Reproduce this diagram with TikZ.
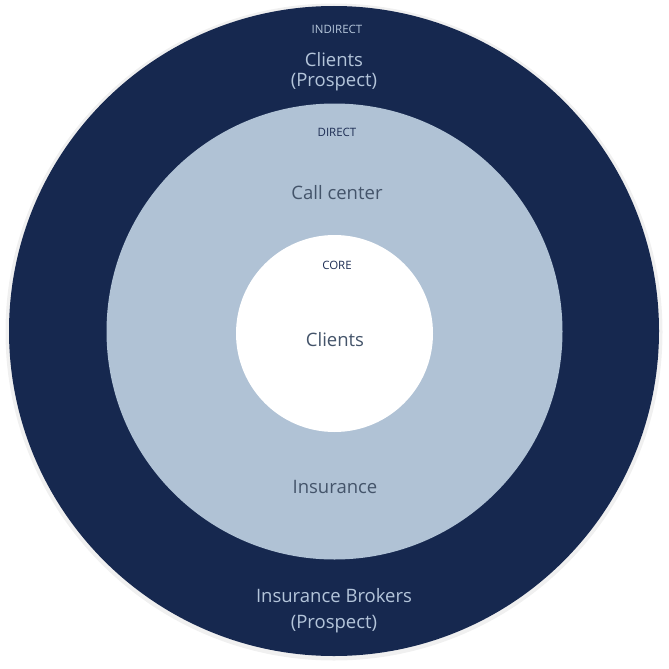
\documentclass[tikz,border=0pt]{standalone}
\usepackage{fontspec}
\setmainfont{Open Sans}
\definecolor{navy}{HTML}{16284F}
\definecolor{steel}{HTML}{B0C2D5}
\definecolor{paletext}{HTML}{B4C5DA}
\definecolor{slatetext}{HTML}{44546A}
\definecolor{tagnavy}{HTML}{1F2F55}
\begin{document}
\begin{tikzpicture}[x=1pt,y=-1pt,
  ring/.style={circle,inner sep=0pt,minimum size=#1},
  tag/.style={font=\fontsize{11.5}{13}\selectfont},
  big/.style={font=\fontsize{18.5}{20}\selectfont,align=center},
]
\useasboundingbox (0,0) rectangle (669,669);
% soft edge around the outer ring
\fill[black!12] (334,331.5) circle[radius=327];
\fill[black!6] (334,332) circle[radius=328.5];
% three nested rings
\node[ring=650pt,fill=navy] (outer) at (334,331) {};
\node[ring=456pt,fill=steel] (middle) at (334.5,331.5) {};
\node[ring=197pt,fill=white] (inner) at (334.5,333.5) {};
% outer ring labels
\node[tag,text=paletext] (tagindirect) at (337,29) {INDIRECT};
\node[big,text=paletext] (clientsprospect) at (334,72) {Clients\\(Prospect)};
\node[big,text=paletext] (brokers) at (334,611) {Insurance Brokers\\[6pt](Prospect)};
% middle ring labels
\node[tag,text=tagnavy] (tagdirect) at (337,132) {DIRECT};
\node[big,text=slatetext] (callcenter) at (337,193) {Call center};
\node[big,text=slatetext] (insurance) at (335,487) {Insurance};
% core labels
\node[tag,text=tagnavy] (tagcore) at (337,265) {CORE};
\node[big,text=slatetext] (clients) at (335,340) {Clients};
\end{tikzpicture}
\end{document}
